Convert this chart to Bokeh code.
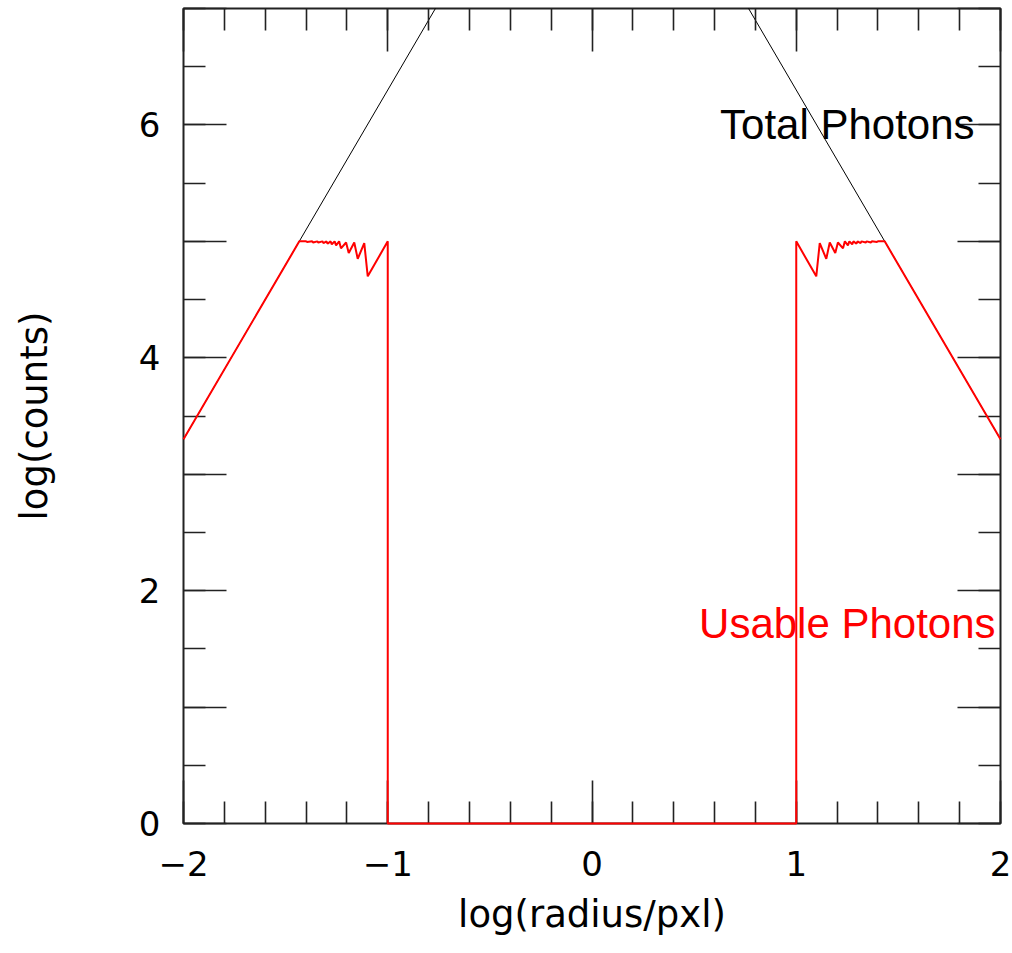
from bokeh.plotting import figure
from bokeh.models import Range1d, LinearAxis, SingleIntervalTicker, Label
from bokeh.embed import file_html
from bokeh.resources import INLINE

# ---- data ----
total_x = [-2.0, 0.0, 2.0]
total_y = [3.3, 9.3, 3.3]

usable_x = [-2.0, -1.433,
            -1.40, -1.395, -1.37, -1.365, -1.345, -1.34, -1.32, -1.315,
            -1.30, -1.295, -1.28, -1.274, -1.26, -1.253, -1.238, -1.229,
            -1.204, -1.191, -1.164, -1.147, -1.115, -1.098, -1.0,
            -1.0, 1.0,
            1.0, 1.098, 1.115, 1.147, 1.164, 1.191, 1.204, 1.229, 1.238,
            1.253, 1.26, 1.274, 1.28, 1.295, 1.30, 1.315, 1.32, 1.34, 1.345,
            1.365, 1.37, 1.395, 1.40,
            1.433, 2.0]
usable_y = [3.3, 5.0,
            5.0, 4.995, 5.0, 4.99, 5.0, 4.99, 5.0, 4.985,
            5.0, 4.98, 5.0, 4.975, 5.0, 4.965, 5.0, 4.94,
            4.99, 4.90, 4.99, 4.85, 4.985, 4.70, 5.0,
            0.0, 0.0,
            5.0, 4.70, 4.985, 4.85, 4.99, 4.90, 4.99, 4.94, 5.0,
            4.965, 5.0, 4.975, 5.0, 4.98, 5.0, 4.985, 5.0, 4.99, 5.0,
            4.99, 5.0, 4.995, 5.0,
            5.0, 3.3]

x_tick_labels = {-2: "\u22122", -1: "\u22121", 0: "0", 1: "1", 2: "2"}
y_tick_labels = {0: "0", 1: "", 2: "2", 3: "", 4: "4", 5: "", 6: "6", 7: ""}

x_label = "log(radius/pxl)"
y_label = "log(counts)"
total_name = "Total Photons"
usable_name = "Usable Photons"

FONT = "DejaVu Sans"
ANN_FONT = "Liberation Sans"
INK = "#222222"

p = figure(width=1012, height=953,
           x_range=Range1d(-2, 2), y_range=Range1d(0, 7),
           output_backend="svg", toolbar_location=None,
           min_border_left=183, min_border_right=12,
           min_border_top=8, min_border_bottom=130)
p.grid.visible = False
p.outline_line_color = INK
p.outline_line_width = 2
p.background_fill_color = "white"
p.border_fill_color = "white"


def style_axis(ax, dim, show_labels):
    if dim == "x":
        ax.ticker = SingleIntervalTicker(interval=1, num_minor_ticks=5)
    else:
        ax.ticker = SingleIntervalTicker(interval=1, num_minor_ticks=2)
    ax.axis_line_color = None
    ax.major_tick_in = 43
    ax.major_tick_out = 0
    ax.minor_tick_in = 22
    ax.minor_tick_out = 0
    ax.major_tick_line_color = INK
    ax.minor_tick_line_color = INK
    ax.major_tick_line_width = 1.6
    ax.minor_tick_line_width = 1.6
    if show_labels:
        ax.major_label_text_font = FONT
        ax.major_label_text_font_size = "34px"
        ax.major_label_text_color = "black"
        ax.axis_label_text_font = FONT
        ax.axis_label_text_font_size = "37px"
        ax.axis_label_text_font_style = "normal"
        ax.axis_label_text_color = "black"
    else:
        ax.major_label_text_font_size = "0px"
        ax.major_label_text_color = None
        ax.major_label_standoff = 0
        ax.axis_label = None


xa = p.xaxis[0]
ya = p.yaxis[0]
style_axis(xa, "x", True)
style_axis(ya, "y", True)
xa.axis_label = x_label
ya.axis_label = y_label
xa.major_label_overrides = x_tick_labels
ya.major_label_overrides = y_tick_labels
xa.major_label_standoff = 27
xa.axis_label_standoff = 14
ya.major_label_standoff = 23
ya.axis_label_standoff = 80
ya.major_label_orientation = "horizontal"

top = LinearAxis()
style_axis(top, "x", False)
p.add_layout(top, "above")
right = LinearAxis()
style_axis(right, "y", False)
p.add_layout(right, "right")

p.line(total_x, total_y, line_color="black", line_width=1)
r = p.line(usable_x, usable_y, line_color="#FF0000", line_width=2)
r.level = "overlay"

p.add_layout(Label(x=1.25, y=6.0, text=total_name, text_align="center",
                   text_baseline="middle", text_font=ANN_FONT,
                   text_font_size="42px", text_color="black"))
p.add_layout(Label(x=1.25, y=1.72, text=usable_name, text_align="center",
                   text_baseline="middle", text_font=ANN_FONT,
                   text_font_size="42px", text_color="#FF0000"))

open("out.html", "w").write(file_html(p, INLINE))
